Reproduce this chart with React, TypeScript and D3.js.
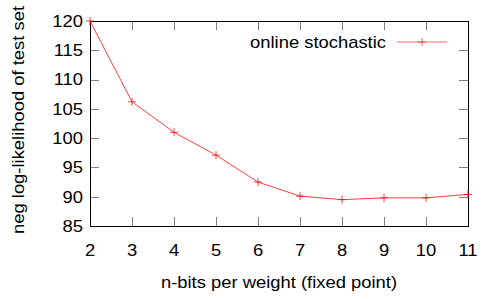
import React, { useEffect, useRef } from 'react';
import * as d3 from 'd3';

const bits = [2, 3, 4, 5, 6, 7, 8, 9, 10, 11];
const nll = [120, 106.2, 101, 97.1, 92.5, 90.1, 89.5, 89.8, 89.8, 90.4];
const yTicks = [85, 90, 95, 100, 105, 110, 115, 120];
const seriesName = 'online stochastic';

export default function App() {
  const ref = useRef<SVGSVGElement>(null);

  useEffect(() => {
    const width = 498, height = 299;
    const left = 90, right = 468, top = 21, bottom = 226;
    const font = '"Liberation Sans", Arial, sans-serif';
    const stretch = 'scale(1.15,1)'; // the original text is a bit wide
    const svg = d3.select(ref.current);
    svg.selectAll('*').remove();

    const x = d3.scaleLinear().domain([2, 11]).range([left, right]);
    const y = d3.scaleLinear().domain([85, 120]).range([bottom, top]);
    const tick = 9;

    const label = (tx: number, ty: number, s: string, anchor: string, extra = '') =>
      svg.append('text')
        .attr('transform', `translate(${tx},${ty}) ${extra} ${stretch}`)
        .attr('text-anchor', anchor)
        .attr('font-family', font).attr('font-size', 16)
        .text(s);

    // ticks (mirrored on all four sides, pointing inwards)
    const tg = svg.append('g').attr('stroke', '#7f7f7f').attr('stroke-width', 1);
    bits.forEach((b) => {
      const px = Math.round(x(b)) + 0.5;
      tg.append('line').attr('x1', px).attr('x2', px).attr('y1', bottom).attr('y2', bottom - tick);
      tg.append('line').attr('x1', px).attr('x2', px).attr('y1', top).attr('y2', top + tick);
    });
    yTicks.forEach((v) => {
      const py = Math.round(y(v)) + 0.5;
      tg.append('line').attr('x1', left).attr('x2', left + tick).attr('y1', py).attr('y2', py);
      tg.append('line').attr('x1', right).attr('x2', right - tick).attr('y1', py).attr('y2', py);
    });

    // border
    svg.append('rect')
      .attr('x', left + 0.5).attr('y', top + 0.5)
      .attr('width', right - left).attr('height', bottom - top)
      .attr('fill', 'none').attr('stroke', '#000').attr('stroke-width', 1);

    // tick labels
    bits.forEach((b) => label(x(b), 256, String(b), 'middle'));
    yTicks.forEach((v) => label(83, y(v) + 5.8, String(v), 'end'));

    // axis titles
    label((left + right) / 2, 288, 'n-bits per weight (fixed point)', 'middle');
    label(24, 120, 'neg log-likelihood of test set', 'middle', 'rotate(-90)');

    // series
    const red = '#ff0000';
    const line = d3.line<number>().x((_, i) => x(bits[i])).y((d) => y(d));
    svg.append('path')
      .attr('d', line(nll))
      .attr('fill', 'none').attr('stroke', red).attr('stroke-width', 1)
      .attr('stroke-opacity', 0.75);

    const plus = (g: any, cx: number, cy: number) => {
      g.append('line').attr('x1', cx - 4).attr('x2', cx + 4).attr('y1', cy).attr('y2', cy);
      g.append('line').attr('x1', cx).attr('x2', cx).attr('y1', cy - 4).attr('y2', cy + 4);
    };
    const mg = svg.append('g').attr('stroke', red).attr('stroke-width', 1).attr('stroke-opacity', 0.75);
    nll.forEach((v, i) => plus(mg, x(bits[i]), y(v)));

    // legend
    const ly = 42;
    label(386, ly + 5.8, seriesName, 'end');
    const lg = svg.append('g').attr('stroke', red).attr('stroke-width', 1).attr('stroke-opacity', 0.6);
    lg.append('line').attr('x1', 397).attr('x2', 447).attr('y1', ly).attr('y2', ly);
    plus(lg, 422, ly);

    svg.attr('width', width).attr('height', height);
  }, []);

  return (
    <svg ref={ref} width={498} height={299}
      style={{ position: 'absolute', left: 0, top: 0, background: '#fff' }} />
  );
}
